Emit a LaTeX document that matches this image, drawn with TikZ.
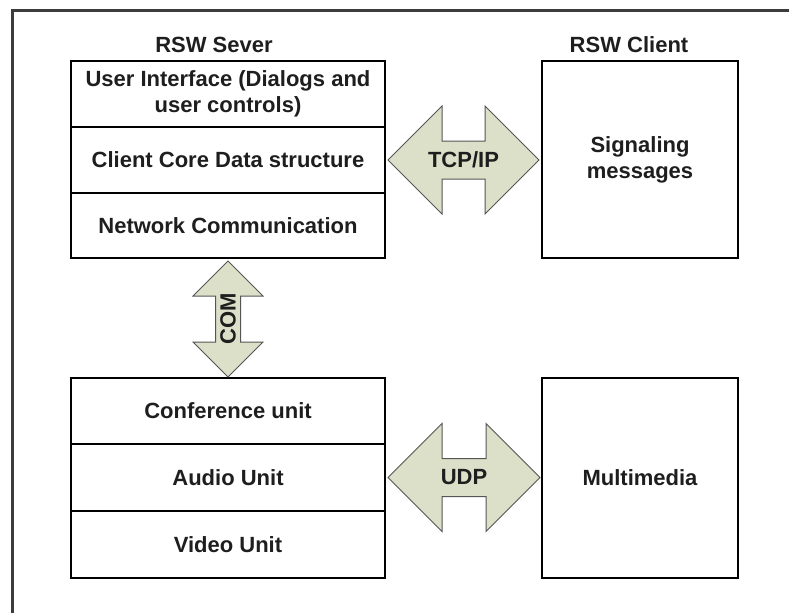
\documentclass[tikz,border=0pt]{standalone}
\usepackage{fontspec}
\setmainfont{Liberation Sans}
\usetikzlibrary{calc}
\definecolor{arrowfill}{RGB}{221,224,200}
\definecolor{arrowline}{RGB}{85,85,85}
\definecolor{framecol}{RGB}{60,60,60}
\definecolor{txt}{RGB}{30,30,30}
\newcommand\hdbl[4]{%
  \draw[dblarrow] let \p1=(#1), \p2=(#2) in
    (\p1) -- (\x1+#3,\y1+#3) -- (\x1+#3,\y1+#4) -- (\x2-#3,\y2+#4) -- (\x2-#3,\y2+#3)
    -- (\p2) -- (\x2-#3,\y2-#3) -- (\x2-#3,\y2-#4) -- (\x1+#3,\y1-#4) -- (\x1+#3,\y1-#3) -- cycle;}
\newcommand\vdbl[4]{%
  \draw[dblarrow] let \p1=(#1), \p2=(#2) in
    (\p1) -- (\x1+#3,\y1-#3) -- (\x1+#4,\y1-#3) -- (\x2+#4,\y2+#3) -- (\x2+#3,\y2+#3)
    -- (\p2) -- (\x2-#3,\y2+#3) -- (\x2-#4,\y2+#3) -- (\x1-#4,\y1-#3) -- (\x1-#3,\y1-#3) -- cycle;}
\begin{document}
\begin{tikzpicture}[x=1pt,y=-1pt,
  every node/.style={font=\fontsize{22}{26}\selectfont\bfseries, text=txt},
  cell/.style={draw=black, line width=2pt, rectangle, inner sep=0pt, align=center},
  srv/.style={cell, minimum width=314pt},
  cli/.style={cell, minimum width=196pt},
  dblarrow/.style={fill=arrowfill, draw=arrowline, line width=1pt, line join=miter},
  frame/.style={draw=framecol, line width=2.5pt}
]
\useasboundingbox (0,0) rectangle (789,613);
\draw[frame] (12.5,613) -- (12.5,10.5) -- (789,10.5);

% titles
\node (srvtitle) at (214,45) {RSW Sever};
\node (clititle) at (629,45) {RSW Client};

% server stack
\node[srv, minimum height=66pt] (ui) at (228,94) {User Interface (Dialogs and\\user controls)};
\node[srv, minimum height=66pt] (core) at (228,160) {Client Core Data structure};
\node[srv, minimum height=65pt] (net) at (228,225.5) {Network Communication};

% client
\node[cli, minimum height=197pt] (client) at (640,159.5) {Signaling\\messages};

% lower stack
\node[srv, minimum height=66pt] (conf) at (228,411) {Conference unit};
\node[srv, minimum height=67pt] (audio) at (228,477.5) {Audio Unit};
\node[srv, minimum height=67pt] (video) at (228,544.5) {Video Unit};

% multimedia
\node[cli, minimum height=200pt] (mm) at (640,478) {Multimedia};

% TCP/IP arrow
\coordinate (tcpL) at ([xshift=2pt]core.east);
\coordinate (tcpR) at ([xshift=-2pt]client.west |- core.east);
\hdbl{tcpL}{tcpR}{54pt}{19pt}
\node (tcplbl) at ($(tcpL)!0.5!(tcpR)$) {TCP/IP};

% UDP arrow
\coordinate (udpL) at ([xshift=2pt]audio.east);
\coordinate (udpR) at ([xshift=-1pt]mm.west |- audio.east);
\hdbl{udpL}{udpR}{54pt}{19pt}
\node (udplbl) at ($(udpL)!0.5!(udpR)$) {UDP};

% COM arrow
\coordinate (comT) at ([yshift=-2pt]net.south);
\coordinate (comB) at (conf.north);
\vdbl{comT}{comB}{35pt}{12.5pt}
\node[rotate=90] (comlbl) at ($(comT)!0.5!(comB)$) {COM};
\end{tikzpicture}
\end{document}
